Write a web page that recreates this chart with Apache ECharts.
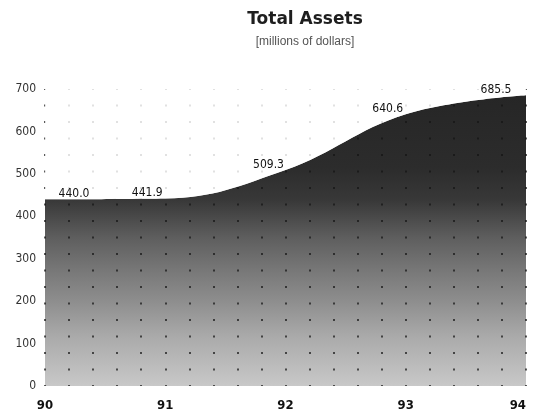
<!DOCTYPE html>
<html>
<head>
<meta charset="utf-8">
<script src="https://cdn.jsdelivr.net/npm/echarts@6/dist/echarts.min.js"></script>
<style>
  html, body { margin: 0; padding: 0; background: #fff; }
  #chart { width: 533px; height: 416px; }
</style>
</head>
<body>
<div id="chart"></div>
<script>
// Fiscal years (two-digit) and total assets in millions of dollars
const years = [90, 91, 92, 93, 94];
const assets = [440.0, 441.9, 509.3, 640.6, 685.5];
const yMin = 0, yMax = 700, yStep = 100;

// horizontal nudge for each value label (pixels)
const labelShiftX = [29, -18, -17, -18, -30];

const narrow = "'Liberation Sans Narrow', 'DejaVu Sans Condensed', Roboto, sans-serif";

const chart = echarts.init(document.getElementById('chart'), null, { renderer: 'canvas' });

const pairs = years.map((y, i) => [y, assets[i]]);
const labelled = years.map((y, i) => ({
  value: [y, assets[i]],
  label: { offset: [labelShiftX[i], 5] }
}));

chart.setOption({
  backgroundColor: '#ffffff',
  animation: false,
  title: {
    text: 'Total Assets',
    subtext: '[millions of dollars]',
    left: 300,
    top: 6,
    textAlign: 'center',
    itemGap: 8,
    textStyle: { fontFamily: 'DejaVu Sans', fontWeight: 'bold', fontSize: 17, color: '#1e1e1e' },
    subtextStyle: { fontFamily: 'Liberation Sans', fontSize: 12, color: '#555' }
  },
  grid: { left: 45, right: 7, top: 89, bottom: 30 },
  xAxis: {
    type: 'value',
    min: 90, max: 94, interval: 0.2,
    zlevel: 1,
    axisLine: { show: false },
    axisTick: { show: false },
    axisLabel: {
      margin: 13,
      fontFamily: narrow, fontWeight: 'bold', fontSize: 13, color: '#111',
      alignMaxLabel: 'right',
      formatter: v => Math.abs(v - Math.round(v)) < 1e-6 ? String(Math.round(v)) : ''
    },
    // dotted screen: short dashes on every vertical split line
    splitLine: {
      show: true,
      lineStyle: { color: 'rgba(20,20,20,0.7)', width: 2, type: [2, 14.5], dashOffset: 1 }
    }
  },
  yAxis: {
    type: 'value',
    min: yMin, max: yMax, interval: yStep,
    axisLine: { show: false },
    axisTick: { show: false },
    splitLine: { show: false },
    axisLabel: {
      margin: 9,
      fontFamily: narrow, fontSize: 12, color: '#333'
    }
  },
  series: [
    {
      // shaded area under the curve
      type: 'line',
      data: pairs,
      smooth: 0.4,
      symbol: 'none',
      zlevel: 0,
      lineStyle: { width: 0 },
      areaStyle: {
        opacity: 1,
        color: new echarts.graphic.LinearGradient(0, 0, 0, 1, [
          { offset: 0, color: '#262626' },
          { offset: 0.25, color: '#2c2c2c' },
          { offset: 0.36, color: '#383838' },
          { offset: 0.49, color: '#5e5e5e' },
          { offset: 0.6, color: '#777777' },
          { offset: 0.71, color: '#8e8e8e' },
          { offset: 0.83, color: '#aaaaaa' },
          { offset: 1, color: '#c8c8c8' }
        ])
      }
    },
    {
      // paper above the curve softens the dot screen; carries the value labels
      type: 'line',
      data: labelled,
      smooth: 0.4,
      symbol: 'circle',
      symbolSize: 1,
      showSymbol: true,
      zlevel: 2,
      itemStyle: { color: 'rgba(0,0,0,0)' },
      lineStyle: { width: 0 },
      areaStyle: { origin: 'end', color: 'rgba(255,255,255,0.82)', opacity: 1 },
      label: {
        show: true,
        position: 'top',
        distance: 4,
        fontFamily: narrow, fontSize: 12, color: '#111',
        formatter: p => p.value[1].toFixed(1)
      }
    }
  ]
});
</script>
</body>
</html>
